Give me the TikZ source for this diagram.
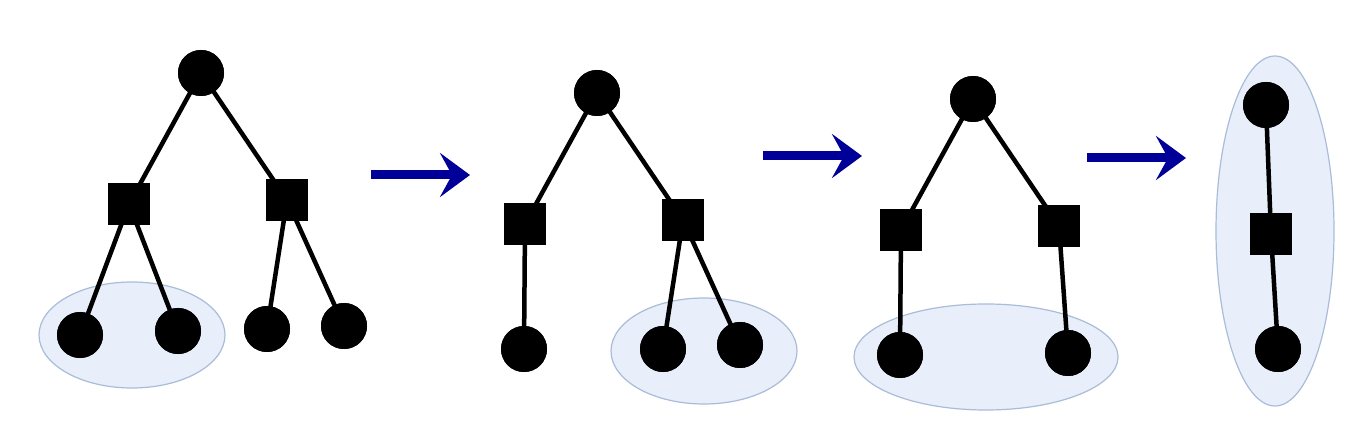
\documentclass[tikz,border=0pt]{standalone}
\usetikzlibrary{arrows.meta}
\definecolor{grpfill}{RGB}{232,238,250}
\definecolor{grpline}{RGB}{169,188,216}
\definecolor{flowc}{RGB}{0,0,153}
\begin{document}
\begin{tikzpicture}[x=1pt,y=-1pt,
  dot/.style={circle,fill=black,inner sep=0pt,minimum size=46pt},
  sq/.style={rectangle,fill=black,inner sep=0pt,minimum size=42pt},
  edge/.style={line width=4.5pt,black},
  grp/.style={fill=grpfill,draw=grpline,line width=1.2pt},
  flow/.style={line width=9pt,flowc,-{Stealth[length=30pt,width=44pt,inset=12pt]}}]
\useasboundingbox (0,0) rectangle (1360,430);
% groups
\draw[grp] (132,335) ellipse [x radius=93,y radius=53];
\draw[grp] (704,351) ellipse [x radius=93,y radius=53];
\draw[grp] (986,357) ellipse [x radius=132,y radius=53];
\draw[grp] (1275,231) ellipse [x radius=59,y radius=175];
% tree 1
\node[dot] (r1) at (201,73) {};
\node[sq] (a1) at (129,204) {};
\node[sq] (b1) at (287,200) {};
\node[dot] (l1) at (80,335) {};
\node[dot] (l2) at (178,331) {};
\node[dot] (l3) at (267,329) {};
\node[dot] (l4) at (344,326) {};
\draw[edge] (r1.center)--(a1.center) (r1.center)--(b1.center) (a1.center)--(l1.center) (a1.center)--(l2.center) (b1.center)--(l3.center) (b1.center)--(l4.center);
\node[dot] at (r1) {};\node[sq] at (a1) {};\node[sq] at (b1) {};
\node[dot] at (l1) {};\node[dot] at (l2) {};\node[dot] at (l3) {};\node[dot] at (l4) {};
% tree 2
\node[dot] (r2) at (597,93) {};
\node[sq] (a2) at (525,224) {};
\node[sq] (b2) at (683,220) {};
\node[dot] (m1) at (524,349) {};
\node[dot] (m2) at (663,349) {};
\node[dot] (m3) at (740,345) {};
\draw[edge] (r2.center)--(a2.center) (r2.center)--(b2.center) (a2.center)--(m1.center) (b2.center)--(m2.center) (b2.center)--(m3.center);
\node[dot] at (r2) {};\node[sq] at (a2) {};\node[sq] at (b2) {};
\node[dot] at (m1) {};\node[dot] at (m2) {};\node[dot] at (m3) {};
% tree 3
\node[dot] (r3) at (973,99) {};
\node[sq] (a3) at (901,230) {};
\node[sq] (b3) at (1059,226) {};
\node[dot] (n1) at (900,355) {};
\node[dot] (n2) at (1068,353) {};
\draw[edge] (r3.center)--(a3.center) (r3.center)--(b3.center) (a3.center)--(n1.center) (b3.center)--(n2.center);
\node[dot] at (r3) {};\node[sq] at (a3) {};\node[sq] at (b3) {};
\node[dot] at (n1) {};\node[dot] at (n2) {};
% tree 4
\node[dot] (r4) at (1266,105) {};
\node[sq] (a4) at (1271,234) {};
\node[dot] (p1) at (1278,349) {};
\draw[edge] (r4.center)--(a4.center) (a4.center)--(p1.center);
\node[dot] at (r4) {};\node[sq] at (a4) {};\node[dot] at (p1) {};
% arrows
\coordinate (s1) at (371,175); \coordinate (e1) at (470,175);
\coordinate (s2) at (763,156); \coordinate (e2) at (862,156);
\coordinate (s3) at (1087,158); \coordinate (e3) at (1186,158);
\draw[flow] (s1)--(e1);
\draw[flow] (s2)--(e2);
\draw[flow] (s3)--(e3);
\end{tikzpicture}
\end{document}
